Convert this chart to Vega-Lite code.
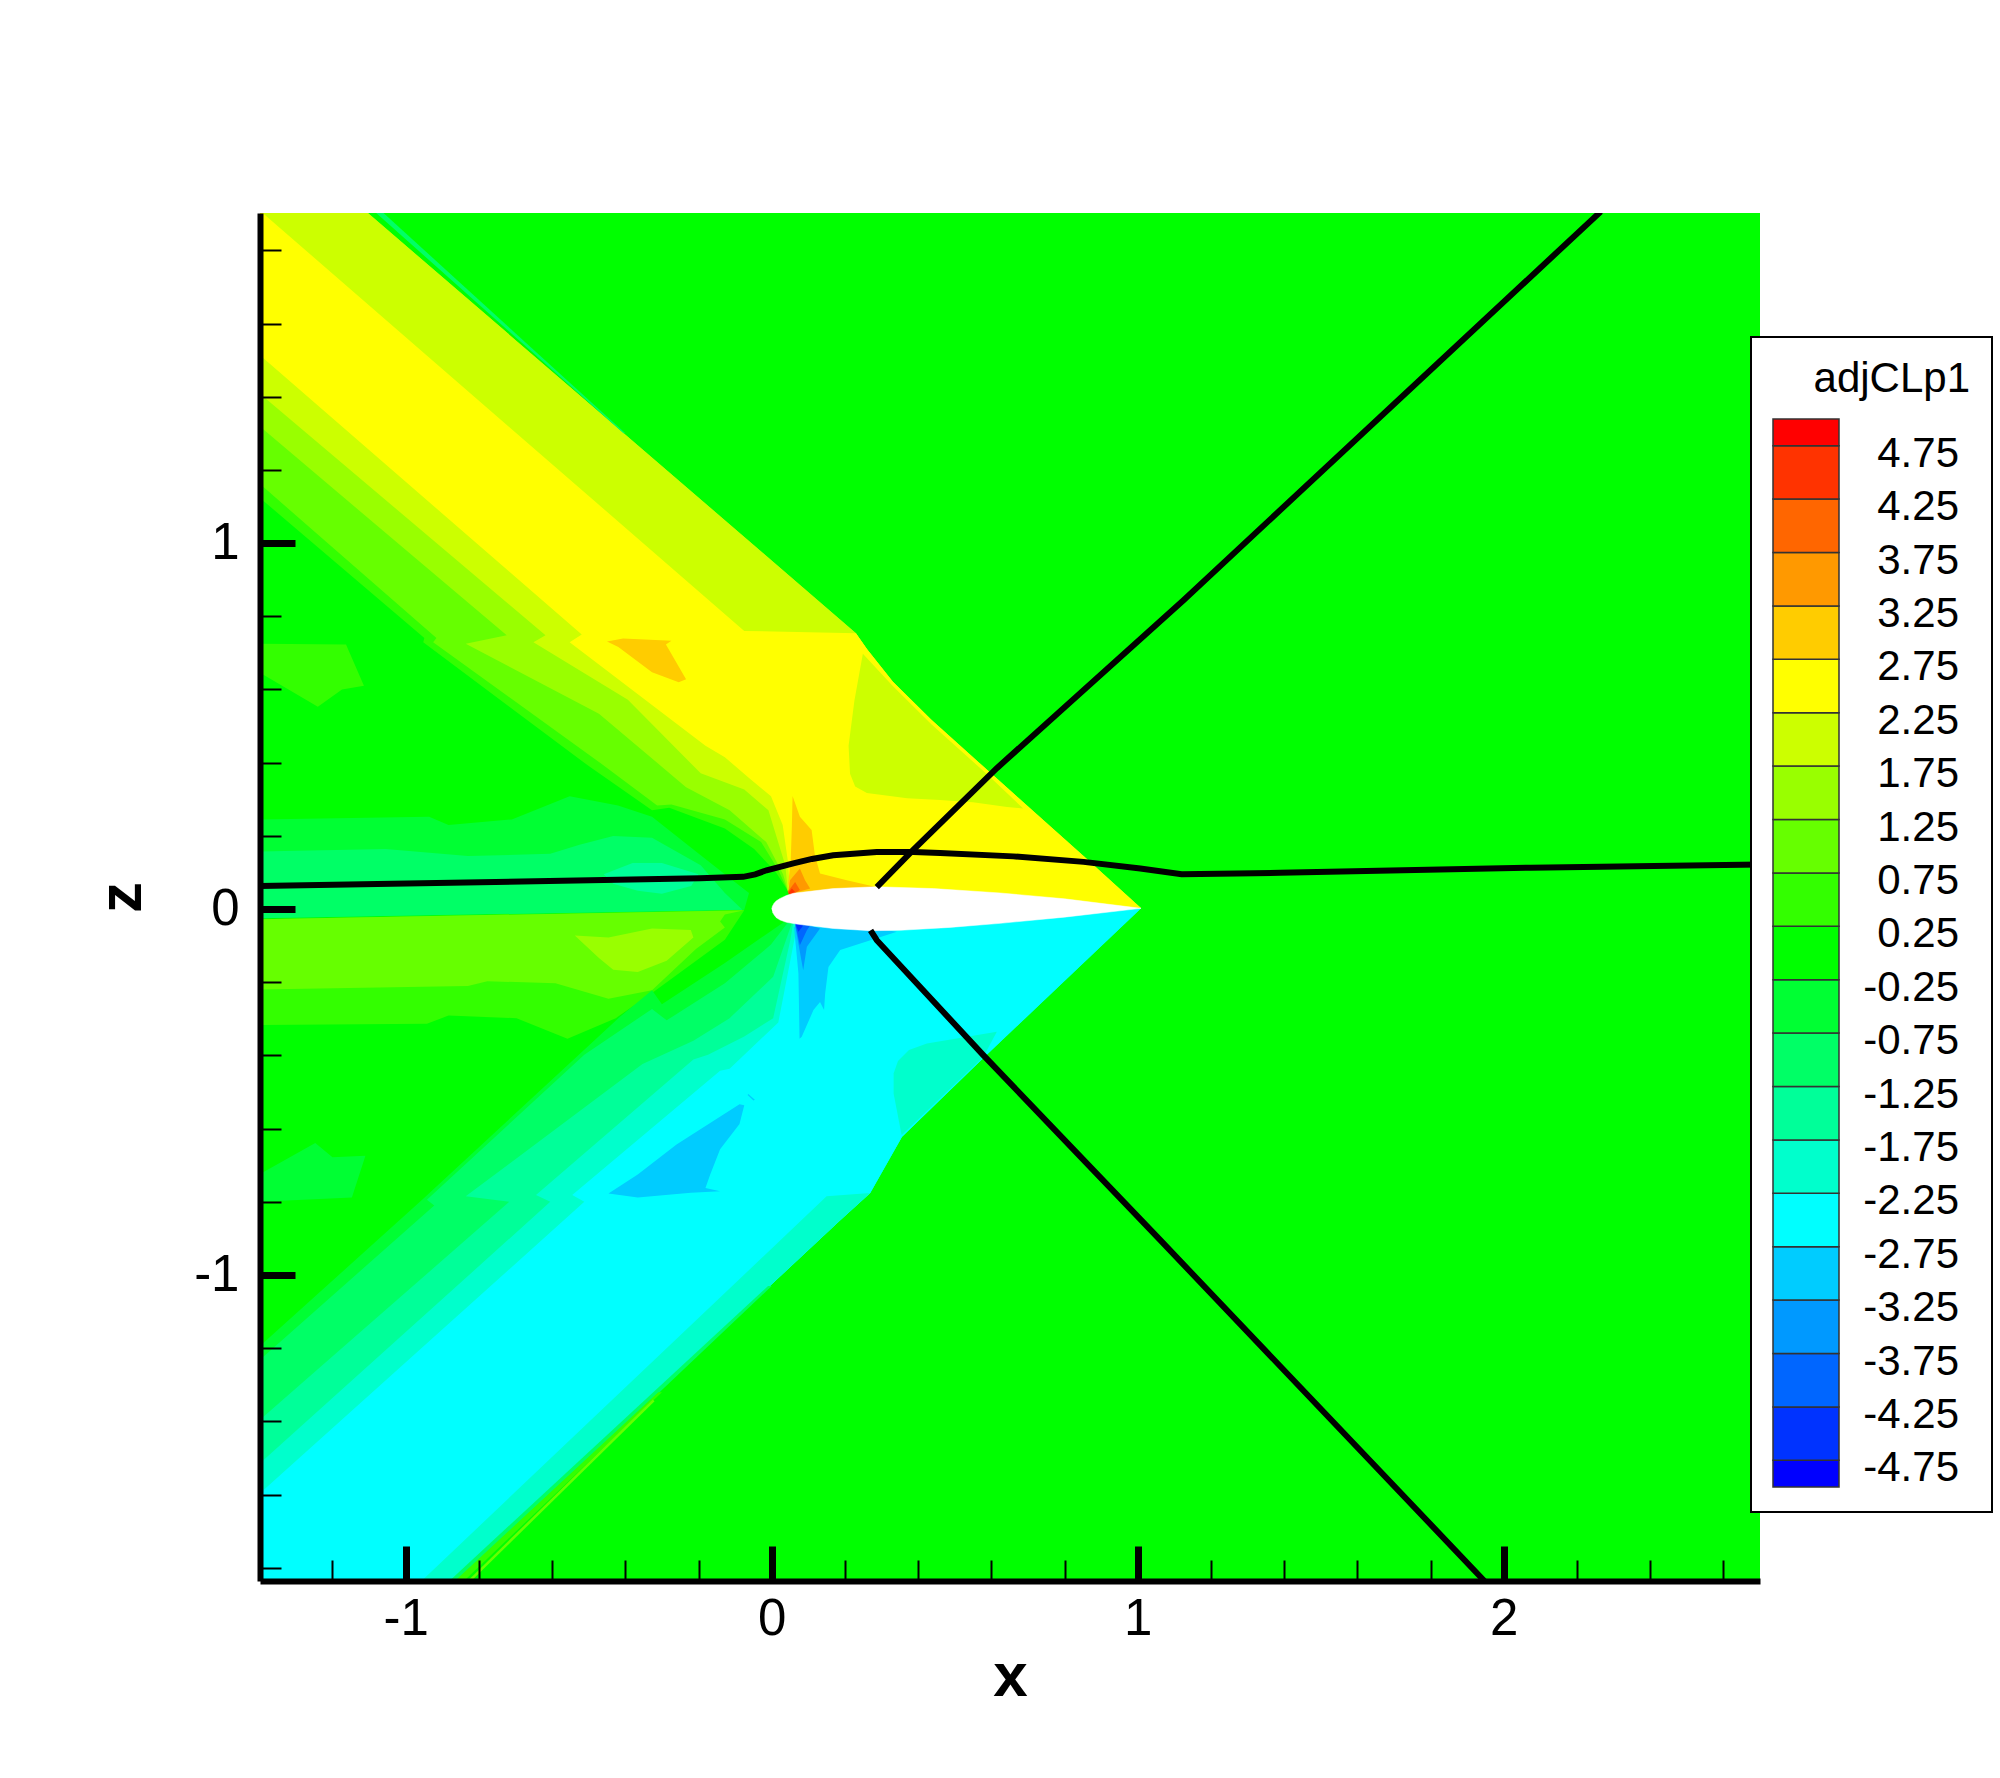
{"$schema":"https://vega.github.io/schema/vega-lite/v6.json","width":1500,"height":1368,"autosize":{"type":"none"},"padding":{"left":260,"top":213,"right":240,"bottom":197},"background":"white","config":{"view":{"stroke":null},"font":"Liberation Sans"},"resolve":{"scale":{"x":"independent","y":"independent"}},"layer":[{"data":{"values":[
{"p":"bg","l":0,"x":-1.4,"z":1.91},{"p":"bg","l":0,"x":2.71,"z":1.91},{"p":"bg","l":0,"x":2.71,"z":-1.85},{"p":"bg","l":0,"x":-1.4,"z":-1.85},
{"p":"a","l":0.5,"x":-1.4,"z":1.125},{"p":"a","l":0.5,"x":-0.949,"z":0.741},{"p":"a","l":0.5,"x":-0.952,"z":0.729},{"p":"a","l":0.5,"x":-0.499,"z":0.39},{"p":"a","l":0.5,"x":-0.327,"z":0.27},{"p":"a","l":0.5,"x":-0.28,"z":0.277},{"p":"a","l":0.5,"x":-0.128,"z":0.22},{"p":"a","l":0.5,"x":-0.048,"z":0.164},{"p":"a","l":0.5,"x":0.011,"z":0.101},{"p":"a","l":0.5,"x":0.044,"z":0.05},{"p":"a","l":0.5,"x":1.009,"z":0.002},{"p":"a","l":0.5,"x":0.854,"z":0.143},{"p":"a","l":0.5,"x":0.592,"z":0.377},{"p":"a","l":0.5,"x":0.436,"z":0.517},{"p":"a","l":0.5,"x":0.331,"z":0.621},{"p":"a","l":0.5,"x":0.261,"z":0.709},{"p":"a","l":0.5,"x":0.23,"z":0.754},{"p":"a","l":0.5,"x":-1.108,"z":1.906},{"p":"a","l":0.5,"x":-1.4,"z":1.906},
{"p":"b","l":1,"x":-1.4,"z":1.163},{"p":"b","l":1,"x":-0.916,"z":0.741},{"p":"b","l":1,"x":-0.925,"z":0.729},{"p":"b","l":1,"x":-0.472,"z":0.402},{"p":"b","l":1,"x":-0.313,"z":0.283},{"p":"b","l":1,"x":-0.274,"z":0.286},{"p":"b","l":1,"x":-0.128,"z":0.245},{"p":"b","l":1,"x":-0.029,"z":0.183},{"p":"b","l":1,"x":0.018,"z":0.107},{"p":"b","l":1,"x":0.044,"z":0.05},{"p":"b","l":1,"x":1.009,"z":0.002},{"p":"b","l":1,"x":0.854,"z":0.143},{"p":"b","l":1,"x":0.592,"z":0.377},{"p":"b","l":1,"x":0.436,"z":0.517},{"p":"b","l":1,"x":0.331,"z":0.621},{"p":"b","l":1,"x":0.261,"z":0.709},{"p":"b","l":1,"x":0.23,"z":0.754},{"p":"b","l":1,"x":-1.108,"z":1.906},{"p":"b","l":1,"x":-1.4,"z":1.906},
{"p":"c","l":1.5,"x":-1.4,"z":1.32},{"p":"c","l":1.5,"x":-0.724,"z":0.748},{"p":"c","l":1.5,"x":-0.836,"z":0.725},{"p":"c","l":1.5,"x":-0.472,"z":0.534},{"p":"c","l":1.5,"x":-0.234,"z":0.333},{"p":"c","l":1.5,"x":-0.115,"z":0.27},{"p":"c","l":1.5,"x":-0.015,"z":0.183},{"p":"c","l":1.5,"x":0.031,"z":0.095},{"p":"c","l":1.5,"x":0.044,"z":0.05},{"p":"c","l":1.5,"x":1.009,"z":0.002},{"p":"c","l":1.5,"x":0.854,"z":0.143},{"p":"c","l":1.5,"x":0.592,"z":0.377},{"p":"c","l":1.5,"x":0.436,"z":0.517},{"p":"c","l":1.5,"x":0.331,"z":0.621},{"p":"c","l":1.5,"x":0.261,"z":0.709},{"p":"c","l":1.5,"x":0.23,"z":0.754},{"p":"c","l":1.5,"x":-1.108,"z":1.906},{"p":"c","l":1.5,"x":-1.4,"z":1.906},
{"p":"d","l":2,"x":-1.4,"z":1.41},{"p":"d","l":2,"x":-0.618,"z":0.748},{"p":"d","l":2,"x":-0.651,"z":0.729},{"p":"d","l":2,"x":-0.393,"z":0.572},{"p":"d","l":2,"x":-0.194,"z":0.371},{"p":"d","l":2,"x":-0.075,"z":0.327},{"p":"d","l":2,"x":-0.009,"z":0.27},{"p":"d","l":2,"x":0.037,"z":0.12},{"p":"d","l":2,"x":0.044,"z":0.05},{"p":"d","l":2,"x":1.009,"z":0.002},{"p":"d","l":2,"x":0.854,"z":0.143},{"p":"d","l":2,"x":0.592,"z":0.377},{"p":"d","l":2,"x":0.436,"z":0.517},{"p":"d","l":2,"x":0.331,"z":0.621},{"p":"d","l":2,"x":0.261,"z":0.709},{"p":"d","l":2,"x":0.23,"z":0.754},{"p":"d","l":2,"x":-1.108,"z":1.906},{"p":"d","l":2,"x":-1.4,"z":1.906},
{"p":"e","l":2.5,"x":-1.4,"z":1.515},{"p":"e","l":2.5,"x":-0.519,"z":0.75},{"p":"e","l":2.5,"x":-0.552,"z":0.729},{"p":"e","l":2.5,"x":-0.181,"z":0.446},{"p":"e","l":2.5,"x":-0.128,"z":0.415},{"p":"e","l":2.5,"x":-0.062,"z":0.358},{"p":"e","l":2.5,"x":-0.002,"z":0.308},{"p":"e","l":2.5,"x":0.03,"z":0.23},{"p":"e","l":2.5,"x":0.044,"z":0.132},{"p":"e","l":2.5,"x":0.05,"z":0.05},{"p":"e","l":2.5,"x":1.009,"z":0.002},{"p":"e","l":2.5,"x":0.854,"z":0.143},{"p":"e","l":2.5,"x":0.592,"z":0.377},{"p":"e","l":2.5,"x":0.436,"z":0.517},{"p":"e","l":2.5,"x":0.331,"z":0.621},{"p":"e","l":2.5,"x":0.261,"z":0.709},{"p":"e","l":2.5,"x":0.23,"z":0.754},{"p":"e","l":2.5,"x":-0.075,"z":0.76},{"p":"e","l":2.5,"x":-1.4,"z":1.91},
{"p":"lobe","l":2,"x":0.249,"z":0.698},{"p":"lobe","l":2,"x":0.33,"z":0.61},{"p":"lobe","l":2,"x":0.436,"z":0.505},{"p":"lobe","l":2,"x":0.592,"z":0.365},{"p":"lobe","l":2,"x":0.687,"z":0.275},{"p":"lobe","l":2,"x":0.643,"z":0.279},{"p":"lobe","l":2,"x":0.55,"z":0.292},{"p":"lobe","l":2,"x":0.46,"z":0.298},{"p":"lobe","l":2,"x":0.37,"z":0.303},{"p":"lobe","l":2,"x":0.26,"z":0.317},{"p":"lobe","l":2,"x":0.228,"z":0.335},{"p":"lobe","l":2,"x":0.214,"z":0.37},{"p":"lobe","l":2,"x":0.21,"z":0.446},{"p":"lobe","l":2,"x":0.226,"z":0.57},
{"p":"patchu","l":0.5,"x":-1.4,"z":0.725},{"p":"patchu","l":0.5,"x":-1.163,"z":0.723},{"p":"patchu","l":0.5,"x":-1.114,"z":0.61},{"p":"patchu","l":0.5,"x":-1.174,"z":0.6},{"p":"patchu","l":0.5,"x":-1.24,"z":0.553},{"p":"patchu","l":0.5,"x":-1.4,"z":0.647},
{"p":"oru","l":3,"x":-0.45,"z":0.731},{"p":"oru","l":3,"x":-0.406,"z":0.739},{"p":"oru","l":3,"x":-0.274,"z":0.733},{"p":"oru","l":3,"x":-0.289,"z":0.723},{"p":"oru","l":3,"x":-0.234,"z":0.628},{"p":"oru","l":3,"x":-0.254,"z":0.62},{"p":"oru","l":3,"x":-0.327,"z":0.647},{"p":"oru","l":3,"x":-0.419,"z":0.716},
{"p":"le3","l":3,"x":0.057,"z":0.309},{"p":"le3","l":3,"x":0.077,"z":0.252},{"p":"le3","l":3,"x":0.109,"z":0.216},{"p":"le3","l":3,"x":0.118,"z":0.147},{"p":"le3","l":3,"x":0.132,"z":0.097},{"p":"le3","l":3,"x":0.205,"z":0.079},{"p":"le3","l":3,"x":0.282,"z":0.061},{"p":"le3","l":3,"x":0.06,"z":0.04},{"p":"le3","l":3,"x":0.045,"z":0.07},{"p":"le3","l":3,"x":0.052,"z":0.134},{"p":"le3","l":3,"x":0.055,"z":0.225},
{"p":"le35","l":3.5,"x":0.077,"z":0.111},{"p":"le35","l":3.5,"x":0.091,"z":0.079},{"p":"le35","l":3.5,"x":0.105,"z":0.056},{"p":"le35","l":3.5,"x":0.059,"z":0.043},{"p":"le35","l":3.5,"x":0.045,"z":0.047},{"p":"le35","l":3.5,"x":0.05,"z":0.079},
{"p":"le4","l":4,"x":0.064,"z":0.074},{"p":"le4","l":4,"x":0.077,"z":0.052},{"p":"le4","l":4,"x":0.055,"z":0.038},{"p":"le4","l":4,"x":0.043,"z":0.047},
{"p":"le45","l":4.5,"x":0.055,"z":0.056},{"p":"le45","l":4.5,"x":0.064,"z":0.047},{"p":"le45","l":4.5,"x":0.05,"z":0.038},{"p":"le45","l":4.5,"x":0.045,"z":0.043},
{"p":"w1","l":-0.5,"x":-1.4,"z":0.245},{"p":"w1","l":-0.5,"x":-0.936,"z":0.252},{"p":"w1","l":-0.5,"x":-0.883,"z":0.23},{"p":"w1","l":-0.5,"x":-0.71,"z":0.245},{"p":"w1","l":-0.5,"x":-0.552,"z":0.308},{"p":"w1","l":-0.5,"x":-0.42,"z":0.283},{"p":"w1","l":-0.5,"x":-0.327,"z":0.252},{"p":"w1","l":-0.5,"x":-0.207,"z":0.157},{"p":"w1","l":-0.5,"x":-0.128,"z":0.095},{"p":"w1","l":-0.5,"x":-0.062,"z":0.044},{"p":"w1","l":-0.5,"x":-0.075,"z":-0.002},{"p":"w1","l":-0.5,"x":-1.4,"z":-0.025},
{"p":"w2","l":-1,"x":-1.4,"z":0.157},{"p":"w2","l":-1,"x":-1.055,"z":0.164},{"p":"w2","l":-1,"x":-0.83,"z":0.145},{"p":"w2","l":-1,"x":-0.605,"z":0.151},{"p":"w2","l":-1,"x":-0.525,"z":0.176},{"p":"w2","l":-1,"x":-0.433,"z":0.2},{"p":"w2","l":-1,"x":-0.327,"z":0.195},{"p":"w2","l":-1,"x":-0.194,"z":0.12},{"p":"w2","l":-1,"x":-0.128,"z":0.044},{"p":"w2","l":-1,"x":-0.08,"z":-0.002},{"p":"w2","l":-1,"x":-1.4,"z":-0.025},
{"p":"w3","l":-1.5,"x":-0.459,"z":0.095},{"p":"w3","l":-1.5,"x":-0.38,"z":0.126},{"p":"w3","l":-1.5,"x":-0.3,"z":0.126},{"p":"w3","l":-1.5,"x":-0.2,"z":0.095},{"p":"w3","l":-1.5,"x":-0.22,"z":0.063},{"p":"w3","l":-1.5,"x":-0.3,"z":0.042},{"p":"w3","l":-1.5,"x":-0.366,"z":0.05},{"p":"w3","l":-1.5,"x":-0.433,"z":0.069},
{"p":"v1","l":0.5,"x":-1.4,"z":-0.028},{"p":"v1","l":0.5,"x":-0.075,"z":-0.003},{"p":"v1","l":0.5,"x":-0.128,"z":-0.084},{"p":"v1","l":0.5,"x":-0.327,"z":-0.229},{"p":"v1","l":0.5,"x":-0.426,"z":-0.298},{"p":"v1","l":0.5,"x":-0.558,"z":-0.354},{"p":"v1","l":0.5,"x":-0.697,"z":-0.298},{"p":"v1","l":0.5,"x":-0.883,"z":-0.291},{"p":"v1","l":0.5,"x":-0.942,"z":-0.313},{"p":"v1","l":0.5,"x":-1.4,"z":-0.317},
{"p":"v2","l":1,"x":-1.4,"z":-0.028},{"p":"v2","l":1,"x":-0.075,"z":-0.003},{"p":"v2","l":1,"x":-0.128,"z":-0.015},{"p":"v2","l":1,"x":-0.141,"z":-0.034},{"p":"v2","l":1,"x":-0.128,"z":-0.05},{"p":"v2","l":1,"x":-0.207,"z":-0.109},{"p":"v2","l":1,"x":-0.327,"z":-0.222},{"p":"v2","l":1,"x":-0.446,"z":-0.245},{"p":"v2","l":1,"x":-0.591,"z":-0.203},{"p":"v2","l":1,"x":-0.777,"z":-0.197},{"p":"v2","l":1,"x":-0.83,"z":-0.21},{"p":"v2","l":1,"x":-1.4,"z":-0.22},
{"p":"v3","l":1.5,"x":-0.538,"z":-0.072},{"p":"v3","l":1.5,"x":-0.446,"z":-0.078},{"p":"v3","l":1.5,"x":-0.327,"z":-0.053},{"p":"v3","l":1.5,"x":-0.221,"z":-0.057},{"p":"v3","l":1.5,"x":-0.214,"z":-0.078},{"p":"v3","l":1.5,"x":-0.287,"z":-0.141},{"p":"v3","l":1.5,"x":-0.366,"z":-0.172},{"p":"v3","l":1.5,"x":-0.433,"z":-0.166},{"p":"v3","l":1.5,"x":-0.472,"z":-0.134},
{"p":"f","l":-0.5,"x":-1.4,"z":-1.196},{"p":"f","l":-0.5,"x":-0.955,"z":-0.794},{"p":"f","l":-0.5,"x":-0.419,"z":-0.298},{"p":"f","l":-0.5,"x":-0.327,"z":-0.222},{"p":"f","l":-0.5,"x":-0.3,"z":-0.26},{"p":"f","l":-0.5,"x":-0.128,"z":-0.147},{"p":"f","l":-0.5,"x":0.018,"z":-0.046},{"p":"f","l":-0.5,"x":0.044,"z":-0.028},{"p":"f","l":-0.5,"x":1.009,"z":0.002},{"p":"f","l":-0.5,"x":0.578,"z":-0.407},{"p":"f","l":-0.5,"x":0.356,"z":-0.622},{"p":"f","l":-0.5,"x":0.269,"z":-0.776},{"p":"f","l":-0.5,"x":0.187,"z":-0.85},{"p":"f","l":-0.5,"x":-0.87,"z":-1.84},{"p":"f","l":-0.5,"x":-1.4,"z":-1.84},
{"p":"g","l":-1,"x":-1.4,"z":-1.233},{"p":"g","l":-1,"x":-0.922,"z":-0.81},{"p":"g","l":-1,"x":-0.942,"z":-0.794},{"p":"g","l":-1,"x":-0.512,"z":-0.398},{"p":"g","l":-1,"x":-0.327,"z":-0.273},{"p":"g","l":-1,"x":-0.287,"z":-0.304},{"p":"g","l":-1,"x":-0.128,"z":-0.203},{"p":"g","l":-1,"x":-0.002,"z":-0.097},{"p":"g","l":-1,"x":0.051,"z":-0.028},{"p":"g","l":-1,"x":1.009,"z":0.002},{"p":"g","l":-1,"x":0.578,"z":-0.407},{"p":"g","l":-1,"x":0.356,"z":-0.622},{"p":"g","l":-1,"x":0.269,"z":-0.776},{"p":"g","l":-1,"x":0.187,"z":-0.85},{"p":"g","l":-1,"x":-0.87,"z":-1.84},{"p":"g","l":-1,"x":-1.4,"z":-1.84},
{"p":"h","l":-1.5,"x":-1.4,"z":-1.397},{"p":"h","l":-1.5,"x":-0.717,"z":-0.8},{"p":"h","l":-1.5,"x":-0.836,"z":-0.785},{"p":"h","l":-1.5,"x":-0.353,"z":-0.423},{"p":"h","l":-1.5,"x":-0.214,"z":-0.36},{"p":"h","l":-1.5,"x":-0.115,"z":-0.298},{"p":"h","l":-1.5,"x":0.004,"z":-0.185},{"p":"h","l":-1.5,"x":0.058,"z":-0.03},{"p":"h","l":-1.5,"x":1.009,"z":0.002},{"p":"h","l":-1.5,"x":0.578,"z":-0.407},{"p":"h","l":-1.5,"x":0.356,"z":-0.622},{"p":"h","l":-1.5,"x":0.269,"z":-0.776},{"p":"h","l":-1.5,"x":0.187,"z":-0.85},{"p":"h","l":-1.5,"x":-0.87,"z":-1.84},{"p":"h","l":-1.5,"x":-1.4,"z":-1.84},
{"p":"i","l":-2,"x":-1.4,"z":-1.516},{"p":"i","l":-2,"x":-0.605,"z":-0.8},{"p":"i","l":-2,"x":-0.644,"z":-0.781},{"p":"i","l":-2,"x":-0.214,"z":-0.411},{"p":"i","l":-2,"x":-0.174,"z":-0.398},{"p":"i","l":-2,"x":-0.075,"z":-0.348},{"p":"i","l":-2,"x":0.004,"z":-0.298},{"p":"i","l":-2,"x":0.051,"z":-0.084},{"p":"i","l":-2,"x":0.06,"z":-0.03},{"p":"i","l":-2,"x":1.009,"z":0.002},{"p":"i","l":-2,"x":0.578,"z":-0.407},{"p":"i","l":-2,"x":0.356,"z":-0.622},{"p":"i","l":-2,"x":0.269,"z":-0.776},{"p":"i","l":-2,"x":0.187,"z":-0.85},{"p":"i","l":-2,"x":-0.87,"z":-1.84},{"p":"i","l":-2,"x":-1.4,"z":-1.84},
{"p":"j","l":-2.5,"x":-1.4,"z":-1.598},{"p":"j","l":-2.5,"x":-0.512,"z":-0.8},{"p":"j","l":-2.5,"x":-0.545,"z":-0.781},{"p":"j","l":-2.5,"x":-0.141,"z":-0.442},{"p":"j","l":-2.5,"x":-0.115,"z":-0.436},{"p":"j","l":-2.5,"x":0.018,"z":-0.31},{"p":"j","l":-2.5,"x":0.064,"z":-0.072},{"p":"j","l":-2.5,"x":0.07,"z":-0.03},{"p":"j","l":-2.5,"x":1.009,"z":0.002},{"p":"j","l":-2.5,"x":0.578,"z":-0.407},{"p":"j","l":-2.5,"x":0.356,"z":-0.622},{"p":"j","l":-2.5,"x":0.269,"z":-0.776},{"p":"j","l":-2.5,"x":0.187,"z":-0.85},{"p":"j","l":-2.5,"x":-0.87,"z":-1.84},{"p":"j","l":-2.5,"x":-1.4,"z":-1.84},
{"p":"strip1","l":-2,"x":0.15,"z":-0.785},{"p":"strip1","l":-2,"x":0.269,"z":-0.776},{"p":"strip1","l":-2,"x":0.187,"z":-0.85},{"p":"strip1","l":-2,"x":-0.87,"z":-1.84},{"p":"strip1","l":-2,"x":-0.961,"z":-1.84},
{"p":"strip2","l":-1,"x":-0.885,"z":-1.84},{"p":"strip2","l":-1,"x":-0.855,"z":-1.84},{"p":"strip2","l":-1,"x":0.0,"z":-1.03},{"p":"strip2","l":-1,"x":-0.01,"z":-1.03},
{"p":"strip5","l":0.5,"x":-0.87,"z":-1.84},{"p":"strip5","l":0.5,"x":-0.845,"z":-1.84},{"p":"strip5","l":0.5,"x":-0.3,"z":-1.32},{"p":"strip5","l":0.5,"x":-0.31,"z":-1.32},
{"p":"strip3","l":1,"x":-0.835,"z":-1.84},{"p":"strip3","l":1,"x":-0.825,"z":-1.84},{"p":"strip3","l":1,"x":-0.32,"z":-1.345},{"p":"strip3","l":1,"x":-0.325,"z":-1.34},
{"p":"strip4","l":-1,"x":-1.085,"z":1.906},{"p":"strip4","l":-1,"x":-1.065,"z":1.906},{"p":"strip4","l":-1,"x":-0.4,"z":1.3},{"p":"strip4","l":-1,"x":-0.405,"z":1.3},
{"p":"lenslo","l":-2,"x":0.615,"z":-0.335},{"p":"lenslo","l":-2,"x":0.424,"z":-0.367},{"p":"lenslo","l":-2,"x":0.375,"z":-0.385},{"p":"lenslo","l":-2,"x":0.345,"z":-0.415},{"p":"lenslo","l":-2,"x":0.333,"z":-0.449},{"p":"lenslo","l":-2,"x":0.333,"z":-0.504},{"p":"lenslo","l":-2,"x":0.355,"z":-0.618},{"p":"lenslo","l":-2,"x":0.578,"z":-0.404},
{"p":"bl","l":-3,"x":-0.446,"z":-0.777},{"p":"bl","l":-3,"x":-0.366,"z":-0.725},{"p":"bl","l":-3,"x":-0.26,"z":-0.643},{"p":"bl","l":-3,"x":-0.088,"z":-0.533},{"p":"bl","l":-3,"x":-0.075,"z":-0.536},{"p":"bl","l":-3,"x":-0.088,"z":-0.587},{"p":"bl","l":-3,"x":-0.141,"z":-0.656},{"p":"bl","l":-3,"x":-0.168,"z":-0.725},{"p":"bl","l":-3,"x":-0.181,"z":-0.762},{"p":"bl","l":-3,"x":-0.141,"z":-0.771},{"p":"bl","l":-3,"x":-0.221,"z":-0.775},{"p":"bl","l":-3,"x":-0.366,"z":-0.788},
{"p":"sl","l":-3,"x":-0.064,"z":-0.505},{"p":"sl","l":-3,"x":-0.046,"z":-0.521},{"p":"sl","l":-3,"x":-0.05,"z":-0.523},{"p":"sl","l":-3,"x":-0.066,"z":-0.508},
{"p":"patchl","l":-0.5,"x":-1.4,"z":-0.725},{"p":"patchl","l":-0.5,"x":-1.247,"z":-0.639},{"p":"patchl","l":-0.5,"x":-1.2,"z":-0.678},{"p":"patchl","l":-0.5,"x":-1.11,"z":-0.674},{"p":"patchl","l":-0.5,"x":-1.147,"z":-0.788},{"p":"patchl","l":-0.5,"x":-1.4,"z":-0.8},
{"p":"q3","l":-3,"x":0.061,"z":-0.049},{"p":"q3","l":-3,"x":0.073,"z":-0.176},{"p":"q3","l":-3,"x":0.076,"z":-0.354},{"p":"q3","l":-3,"x":0.082,"z":-0.349},{"p":"q3","l":-3,"x":0.114,"z":-0.276},{"p":"q3","l":-3,"x":0.132,"z":-0.254},{"p":"q3","l":-3,"x":0.143,"z":-0.276},{"p":"q3","l":-3,"x":0.146,"z":-0.231},{"p":"q3","l":-3,"x":0.155,"z":-0.158},{"p":"q3","l":-3,"x":0.187,"z":-0.112},{"p":"q3","l":-3,"x":0.342,"z":-0.062},{"p":"q3","l":-3,"x":0.26,"z":-0.05},
{"p":"q35","l":-3.5,"x":0.064,"z":-0.045},{"p":"q35","l":-3.5,"x":0.086,"z":-0.167},{"p":"q35","l":-3.5,"x":0.096,"z":-0.103},{"p":"q35","l":-3.5,"x":0.132,"z":-0.053},{"p":"q35","l":-3.5,"x":0.077,"z":-0.036},
{"p":"q4","l":-4,"x":0.064,"z":-0.04},{"p":"q4","l":-4,"x":0.077,"z":-0.099},{"p":"q4","l":-4,"x":0.096,"z":-0.058},{"p":"q4","l":-4,"x":0.105,"z":-0.045},
{"p":"q45","l":-4.5,"x":0.064,"z":-0.038},{"p":"q45","l":-4.5,"x":0.073,"z":-0.062},{"p":"q45","l":-4.5,"x":0.086,"z":-0.045}
]},"mark":{"type":"line","order":false,"clip":true,"strokeWidth":0},"encoding":{"x":{"field":"x","type":"quantitative","title":"x","scale":{"domain":[-1.398,2.7],"nice":false,"zero":false},"axis":{"orient":"bottom","values":[-1,0,1,2],"grid":false,"format":"d","labelExpr":"replace(datum.label,'\u2212','-')","tickSize":-35,"tickWidth":7,"tickColor":"black","domainWidth":6,"domainColor":"black","labelFont":"Liberation Sans","labelFontSize":51,"labelColor":"black","labelPadding":48,"titleFont":"Liberation Sans","titleFontWeight":"bold","titleFontSize":62,"titleColor":"black","titlePadding":2,"zindex":1}},"y":{"field":"z","type":"quantitative","title":"z","scale":{"domain":[-1.836,1.902],"nice":false,"zero":false},"axis":{"orient":"left","values":[-1,0,1],"grid":false,"format":"d","labelExpr":"replace(datum.label,'\u2212','-')","tickSize":-35,"tickWidth":7,"tickColor":"black","domainWidth":6,"domainColor":"black","labelFont":"Liberation Sans","labelFontSize":51,"labelColor":"black","labelPadding":56,"titleFont":"Liberation Sans","titleFontWeight":"bold","titleFontSize":62,"titleColor":"black","titlePadding":40,"zindex":1}},"detail":{"field":"p"},"fill":{"field":"l","type":"quantitative","scale":{"type":"threshold","domain":[-4.75,-4.25,-3.75,-3.25,-2.75,-2.25,-1.75,-1.25,-0.75,-0.25,0.25,0.75,1.25,1.75,2.25,2.75,3.25,3.75,4.25,4.75],"range":["#0000ff","#0033ff","#0066ff","#0099ff","#00ccff","#00ffff","#00ffcc","#00ff99","#00ff66","#00ff33","#00ff00","#33ff00","#66ff00","#99ff00","#ccff00","#ffff00","#ffcc00","#ff9900","#ff6600","#ff3300","#ff0000"]},"legend":{"type":"gradient","title":"adjCLp1","orient":"none","legendX":1491,"legendY":124,"direction":"vertical","gradientLength":1087,"gradientThickness":66,"gradientStrokeColor":"#333333","gradientStrokeWidth":1.5,"fillColor":"white","strokeColor":"black","padding":22,"titleFont":"Liberation Sans","titleFontSize":42,"titleFontWeight":"normal","titleColor":"black","titleAnchor":"end","titlePadding":18,"labelFont":"Liberation Sans","labelFontSize":42,"labelColor":"black","labelOffset":120,"labelOverlap":false,"format":".2f","labelExpr":"isValid(datum.label) && datum.label != 'null' ? replace(datum.label,'\u2212','-') : '.'","encoding":{"labels":{"align":{"value":"right"},"dy":{"value":8},"dx":{"value":{"expr":"isValid(datum.label) && datum.label != 'null' ? 0 : 11"}},"fillOpacity":{"value":{"expr":"isValid(datum.label) && datum.label != 'null' ? 1 : 0"}},"y":{"value":{"expr":"isValid(datum.label) && datum.label != 'null' ? 1068*(1-(datum.perc*21-0.5)/20) : 1058"}}},"gradient":{"y":{"value":{"expr":"1068*(1-clamp(datum.perc2*21-0.5,0,20)/20)"}},"y2":{"value":{"expr":"1068*(1-clamp(datum.perc2*21-1.5,0,20)/20)"}}},"legend":{"strokeWidth":{"value":2}}}}}}},
{"data":{"values":[{"x":0,"z":0},{"x":0.002,"z":0.008},{"x":0.006,"z":0.015},{"x":0.012,"z":0.022},{"x":0.023,"z":0.029},{"x":0.04,"z":0.037},{"x":0.059,"z":0.043},{"x":0.168,"z":0.056},{"x":0.287,"z":0.061},{"x":0.442,"z":0.056},{"x":0.624,"z":0.044},{"x":0.8,"z":0.028},{"x":1.009,"z":0.002},{"x":0.8,"z":-0.022},{"x":0.624,"z":-0.039},{"x":0.487,"z":-0.05},{"x":0.351,"z":-0.058},{"x":0.269,"z":-0.059},{"x":0.168,"z":-0.053},{"x":0.068,"z":-0.041},{"x":0.04,"z":-0.036},{"x":0.023,"z":-0.03},{"x":0.012,"z":-0.023},{"x":0.006,"z":-0.015},{"x":0.002,"z":-0.008}]},"mark":{"type":"line","order":false,"fill":"white","stroke":"white","strokeWidth":0.5},"encoding":{"x":{"field":"x","type":"quantitative","scale":{"domain":[-1.398,2.7],"nice":false,"zero":false},"axis":{"orient":"bottom","values":[-1.2,-0.8,-0.6,-0.4,-0.2,0.2,0.4,0.6,0.8,1.2,1.4,1.6,1.8,2.2,2.4,2.6],"grid":false,"labels":false,"domain":false,"title":null,"tickSize":-21,"tickWidth":2,"tickColor":"black","zindex":1}},"y":{"field":"z","type":"quantitative","scale":{"domain":[-1.836,1.902],"nice":false,"zero":false},"axis":{"orient":"left","values":[-1.8,-1.6,-1.4,-1.2,-0.8,-0.6,-0.4,-0.2,0.2,0.4,0.6,0.8,1.2,1.4,1.6,1.8],"grid":false,"labels":false,"domain":false,"title":null,"tickSize":-21,"tickWidth":2,"tickColor":"black","zindex":1}}}},
{"data":{"values":[
{"s":"wake","x":-1.398,"z":0.063},{"s":"wake","x":-0.196,"z":0.084},{"s":"wake","x":-0.078,"z":0.088},{"s":"wake","x":-0.045,"z":0.095},{"s":"wake","x":-0.014,"z":0.106},{"s":"wake","x":0.059,"z":0.125},{"s":"wake","x":0.11,"z":0.137},{"s":"wake","x":0.168,"z":0.147},{"s":"wake","x":0.287,"z":0.156},{"s":"wake","x":0.387,"z":0.156},{"s":"wake","x":0.46,"z":0.153},{"s":"wake","x":0.66,"z":0.144},{"s":"wake","x":0.852,"z":0.129},{"s":"wake","x":1.007,"z":0.111},{"s":"wake","x":1.12,"z":0.095},{"s":"wake","x":1.271,"z":0.097},{"s":"wake","x":1.389,"z":0.099},{"s":"wake","x":2.073,"z":0.113},{"s":"wake","x":2.7,"z":0.122},
{"s":"up","x":0.287,"z":0.06},{"s":"up","x":0.386,"z":0.161},{"s":"up","x":0.615,"z":0.385},{"s":"up","x":1.125,"z":0.844},{"s":"up","x":2.265,"z":1.906},
{"s":"low","x":0.27,"z":-0.058},{"s":"low","x":0.287,"z":-0.085},{"s":"low","x":0.578,"z":-0.399},{"s":"low","x":1.061,"z":-0.904},{"s":"low","x":1.951,"z":-1.84}
]},"mark":{"type":"line","order":false,"clip":true,"color":"black","strokeWidth":6},"encoding":{"x":{"field":"x","type":"quantitative","scale":{"domain":[-1.398,2.7],"nice":false,"zero":false},"axis":null},"y":{"field":"z","type":"quantitative","scale":{"domain":[-1.836,1.902],"nice":false,"zero":false},"axis":null},"detail":{"field":"s"}}}
]}
